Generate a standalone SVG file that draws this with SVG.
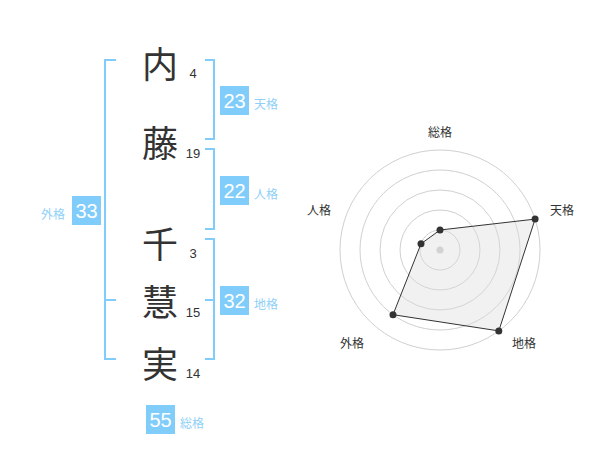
<svg xmlns="http://www.w3.org/2000/svg" width="600" height="470" viewBox="0 0 600 470">
<style>
text{font-family:"Noto Sans CJK JP","Liberation Sans",sans-serif;text-anchor:middle;dominant-baseline:central}
.ch{font-size:36px;fill:#333}
.num{font-family:"Liberation Sans","Noto Sans CJK JP",sans-serif;font-size:13px;fill:#333}
.br{fill:none;stroke:#80cdfb;stroke-width:2}
.box{fill:#80cdfb}
.bv{font-family:"Liberation Sans",sans-serif;font-size:20px;fill:#fff}
.bl{font-size:12px;fill:#8fd0f8}
.ring{fill:none;stroke:#d0d0d0;stroke-width:1}
.rl{font-size:12px;fill:#333}
.pt{fill:#333}
</style>
<rect width="600" height="470" fill="#fff"/>
<g id="brackets">
<path class="br" d="M116,60 H105 V359 H116 M105,300 H116"/>
<path class="br" d="M205,60 H214 V139 H205"/>
<path class="br" d="M205,149 H214 V229 H205"/>
<path class="br" d="M205,239 H214 V359 H205 M205,300 H214"/>
</g>
<g id="names">
<text class="ch" x="160" y="62">内</text>
<text class="ch" x="160" y="141">藤</text>
<text class="ch" x="160" y="242">千</text>
<text class="ch" x="160" y="300">慧</text>
<text class="ch" x="160" y="362">実</text>
<text class="num" x="193" y="73">4</text>
<text class="num" x="193" y="153">19</text>
<text class="num" x="193" y="253">3</text>
<text class="num" x="193" y="312">15</text>
<text class="num" x="193" y="373">14</text>
</g>
<g id="tenkaku"><rect class="box" x="220" y="86" width="29" height="29"/><text class="bv" x="234.5" y="101">23</text><text class="bl" x="266" y="103">天格</text></g>
<g id="jinkaku"><rect class="box" x="220" y="176" width="29" height="29"/><text class="bv" x="234.5" y="191">22</text><text class="bl" x="266" y="193">人格</text></g>
<g id="chikaku"><rect class="box" x="220" y="286" width="29" height="29"/><text class="bv" x="234.5" y="301">32</text><text class="bl" x="266" y="303">地格</text></g>
<g id="gaikaku"><rect class="box" x="72" y="196" width="29" height="29"/><text class="bv" x="86.5" y="211">33</text><text class="bl" x="53" y="213">外格</text></g>
<g id="soukaku"><rect class="box" x="146" y="405" width="29" height="29"/><text class="bv" x="160.5" y="420">55</text><text class="bl" x="192" y="422">総格</text></g>
<g id="radar">
<circle class="ring" cx="440" cy="250" r="20"/>
<circle class="ring" cx="440" cy="250" r="40"/>
<circle class="ring" cx="440" cy="250" r="60"/>
<circle class="ring" cx="440" cy="250" r="80"/>
<circle class="ring" cx="440" cy="250" r="100"/>
<circle cx="440" cy="250" r="3.5" fill="#ccc"/>
<polygon points="440,230 535.1,219.1 498.8,330.9 393,314.7 421,243.8" fill="rgba(220,220,220,0.4)" stroke="#333" stroke-width="1"/>
<circle class="pt" cx="440" cy="230" r="3.5"/>
<circle class="pt" cx="535.1" cy="219.1" r="3.5"/>
<circle class="pt" cx="498.8" cy="330.9" r="3.5"/>
<circle class="pt" cx="393" cy="314.7" r="3.5"/>
<circle class="pt" cx="421" cy="243.8" r="3.5"/>
<text class="rl" x="440" y="131">総格</text>
<text class="rl" x="562" y="209">天格</text>
<text class="rl" x="524" y="342">地格</text>
<text class="rl" x="352" y="342">外格</text>
<text class="rl" x="319" y="209">人格</text>
</g>
</svg>
